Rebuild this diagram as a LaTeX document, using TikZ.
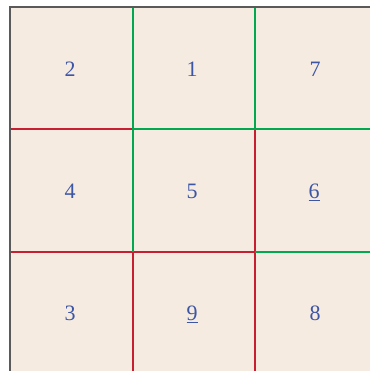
\documentclass[tikz,border=0pt]{standalone}
\usepackage{fontspec}
\setmainfont{Liberation Serif}
\usetikzlibrary{positioning,calc}
\definecolor{paperBg}{RGB}{245, 235, 225}
\definecolor{frameGray}{RGB}{90, 90, 90}
\definecolor{cutRed}{RGB}{200, 30, 50}
\definecolor{keepGreen}{RGB}{0, 168, 80}
\definecolor{numBlue}{RGB}{60, 85, 165}
\tikzset{
    cellnum/.style={text=numBlue,font=\fontsize{22}{24}\selectfont,inner sep=0pt},
    redline/.style={draw=cutRed,line width=2.3pt},
    greenline/.style={draw=keepGreen,line width=2.3pt},
    frameline/.style={draw=frameGray,line width=1.8pt}
}

\begin{document}
\begin{tikzpicture}[x=1pt,y=1pt]
        \useasboundingbox (0,0) rectangle (370,371);
        % Background sheet
        \fill[paperBg] (10,0) rectangle (370,364);

        % Grid points
        \coordinate (a1) at (133,364); \coordinate (a2) at (255,364);
        \coordinate (b0) at (10,242);  \coordinate (b1) at (133,242);
        \coordinate (b2) at (255,242); \coordinate (b3) at (370,242);
        \coordinate (c0) at (10,119);  \coordinate (c1) at (133,119);
        \coordinate (c2) at (255,119); \coordinate (c3) at (370,119);
        \coordinate (d1) at (133,0);   \coordinate (d2) at (255,0);

        % Red cuts
        \draw[redline] (b0) -- (b1);
        \draw[redline] (c0) -- (c1) -- (c2);
        \draw[redline] (c1) -- (d1);
        \draw[redline] (b2) -- (c2) -- (d2);

        % Green cuts
        \draw[greenline] (a1) -- (b1) -- (c1);
        \draw[greenline] (a2) -- (b2);
        \draw[greenline] (b1) -- (b3);
        \draw[greenline] (c2) -- (c3);

        % Frame
        \draw[frameline] (10,0) -- (10,364) -- (370,364);

        % Numbers
        \node[cellnum] (n2) at (70,302) {2};
        \node[cellnum] (n1) at (192,302) {1};
        \node[cellnum] (n7) at (315,302) {7};
        \node[cellnum] (n4) at (70,180) {4};
        \node[cellnum] (n5) at (192,180) {5};
        \node[cellnum] (n6) at (314,179) {\underline{6}};
        \node[cellnum] (n3) at (70,58) {3};
        \node[cellnum] (n9) at (192,57) {\underline{9}};
        \node[cellnum] (n8) at (315,58) {8};
    \end{tikzpicture}
\end{document}
